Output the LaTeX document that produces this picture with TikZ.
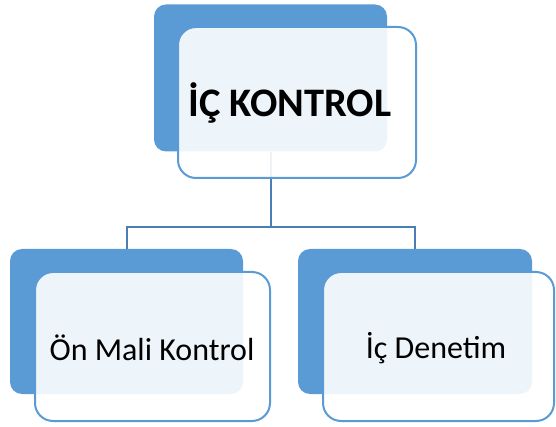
\documentclass[tikz,border=0pt]{standalone}
\usepackage{fontspec}
\setmainfont{Carlito}
\definecolor{boxblue}{HTML}{5B9BD5}
\definecolor{linkblue}{HTML}{4A7EB5}
\begin{document}
\begin{tikzpicture}[x=1pt,y=-1pt,
  backbox/.style={rectangle, fill=boxblue, rounded corners=12pt, inner sep=0pt},
  frontbox/.style={rectangle, draw=boxblue, line width=2pt, fill=white, fill opacity=0.9, text opacity=1, rounded corners=18pt, inner sep=0pt},
  link/.style={draw=linkblue, line width=2pt},
  titletext/.style={font=\fontsize{40.5}{48}\selectfont\bfseries, text=black},
  childtext/.style={font=\fontsize{32}{38}\selectfont, text=black}]
\useasboundingbox (0,0) rectangle (556,427);

% back panels
\node[backbox, minimum width=233pt, minimum height=147pt] (topback) at (270.5,78) {};
\node[backbox, minimum width=233pt, minimum height=145pt] (leftback) at (126.5,321.5) {};
\node[backbox, minimum width=234pt, minimum height=145pt] (rightback) at (415,321.5) {};

% hierarchy connectors
\coordinate (fork) at (270.5,227);
\draw[link] (topback.south) -- (fork);
\draw[link] (fork) -| (leftback.north);
\draw[link] (fork) -| (rightback.north);

% front cards
\node[frontbox, minimum width=238pt, minimum height=151pt] (topfront) at (297,102.5) {};
\node[frontbox, minimum width=235pt, minimum height=149pt] (leftfront) at (152.5,346.5) {};
\node[frontbox, minimum width=231pt, minimum height=149pt] (rightfront) at (438.5,346.5) {};

% labels
\node[titletext] (title) at (290,103) {İÇ KONTROL};
\node[childtext] (lefttext) at (152,348) {Ön Mali Kontrol};
\node[childtext] (righttext) at (436,348) {İç Denetim};
\end{tikzpicture}
\end{document}
